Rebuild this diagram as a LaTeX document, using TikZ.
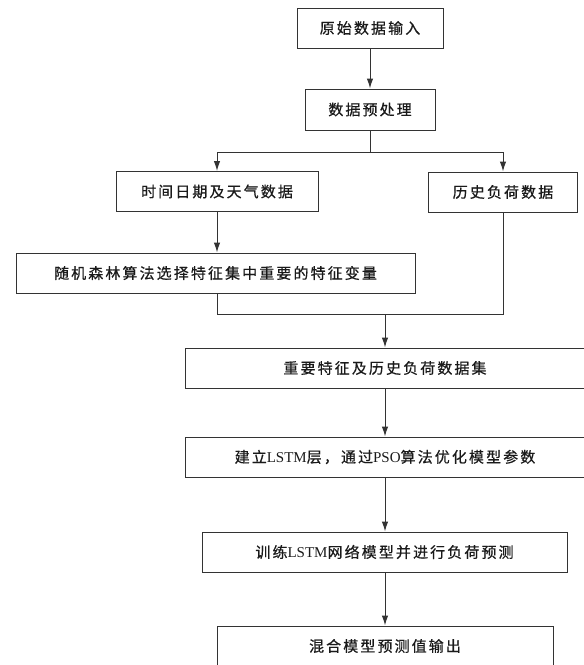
\documentclass[tikz,border=0pt]{standalone}
\usepackage{fontspec}
\setmainfont{Liberation Serif}
\newfontfamily\cjk[LetterSpace=14,FakeBold=0.6]{Noto Sans CJK SC}
\usetikzlibrary{arrows.meta}
\definecolor{ln}{HTML}{333333}
\definecolor{tx}{HTML}{1a1a1a}
\begin{document}
\begin{tikzpicture}[x=1pt,y=-1pt,
  box/.style={draw=ln, line width=1pt, inner sep=0pt, minimum height=40pt, text=tx, font=\fontsize{15pt}{17pt}\selectfont},
  arr/.style={draw=ln, line width=1pt, -{Latex[length=10pt,width=6.5pt]}},
  ln/.style={draw=ln, line width=1pt}]
\useasboundingbox (0,0) rectangle (584,665);
\clip (0,0) rectangle (584,665);
\node[box, minimum width=146pt] (b1) at (370,28) {\cjk 原始数据输入};
\node[box, minimum width=130pt, minimum height=41pt] (b2) at (370,109.5) {\cjk 数据预处理};
\node[box, minimum width=202pt] (b3) at (217,191.5) {\cjk 时间日期及天气数据};
\node[box, minimum width=149pt] (b4) at (503,192) {\cjk 历史负荷数据};
\node[box, minimum width=399pt] (b5) at (215.5,273) {\cjk 随机森林算法选择特征集中重要的特征变量};
\node[box, minimum width=400pt] (b6) at (385,368) {\cjk 重要特征及历史负荷数据集};
\node[box, minimum width=400pt] (b7) at (385,457) {{\cjk 建立}LSTM{\cjk 层，通过}PSO{\cjk 算法优化模型参数}};
\node[box, minimum width=365pt] (b8) at (384.5,552) {{\cjk 训练}LSTM{\cjk 网络模型并进行负荷预测}};
\node[box, minimum width=336pt] (b9) at (385,646) {\cjk 混合模型预测值输出};
\coordinate (split) at (370,152);
\coordinate (join) at (385,314);
\draw[arr] (b1) -- (b2);
\draw[ln] (b2) -- (split);
\draw[arr] (split) -| (b3);
\draw[arr] (split) -| (b4);
\draw[arr] (b3.south) -- (b3.south |- b5.north);
\draw[ln] (b3.south |- b5.south) |- (join);
\draw[ln] (b4) |- (join);
\draw[arr] (join) -- (b6);
\draw[arr] (b6) -- (b7);
\draw[arr] (b7) -- (b8.north -| b7);
\draw[arr] (b7 |- b8.south) -- (b9);
\end{tikzpicture}
\end{document}
